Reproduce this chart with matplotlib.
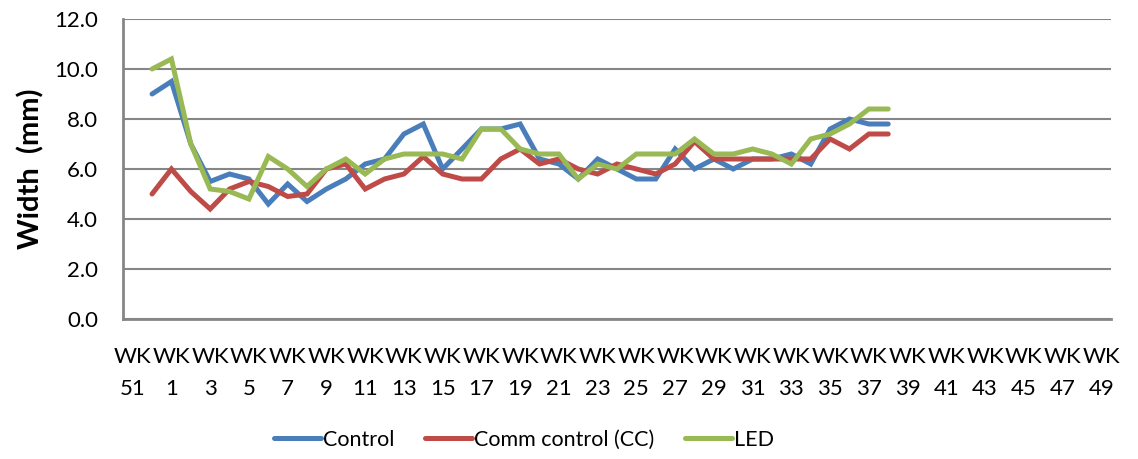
import matplotlib.pyplot as plt
import numpy as np

plt.rcParams['font.family'] = ['Lato', 'DejaVu Sans']

# week categories: WK51, WK52, then WK1..WK49
weeks = ["WK51", "WK52"] + ["WK%d" % w for w in range(1, 50)]
week_nums = ["51", "52"] + [str(w) for w in range(1, 50)]

nan = np.nan
# measured widths (mm), WK51 .. WK38
control = [nan, 9.0, 9.5, 7.0, 5.5, 5.8, 5.6, 4.6, 5.4, 4.7, 5.2, 5.6, 6.2, 6.4,
           7.4, 7.8, 6.0, 6.8, 7.6, 7.6, 7.8, 6.4, 6.2, 5.6, 6.4, 6.0, 5.6, 5.6,
           6.8, 6.0, 6.4, 6.0, 6.4, 6.4, 6.6, 6.2, 7.6, 8.0, 7.8, 7.8]
comm_control = [nan, 5.0, 6.0, 5.1, 4.4, 5.2, 5.5, 5.3, 4.9, 5.0, 6.0, 6.2, 5.2, 5.6,
                5.8, 6.5, 5.8, 5.6, 5.6, 6.4, 6.8, 6.2, 6.4, 6.0, 5.8, 6.2, 6.0, 5.8,
                6.2, 7.1, 6.4, 6.4, 6.4, 6.4, 6.4, 6.4, 7.2, 6.8, 7.4, 7.4]
led = [nan, 10.0, 10.4, 7.0, 5.2, 5.1, 4.8, 6.5, 6.0, 5.3, 6.0, 6.4, 5.8, 6.4,
       6.6, 6.6, 6.6, 6.4, 7.6, 7.6, 6.8, 6.6, 6.6, 5.6, 6.2, 6.0, 6.6, 6.6,
       6.6, 7.2, 6.6, 6.6, 6.8, 6.6, 6.2, 7.2, 7.4, 7.8, 8.4, 8.4]

series = [("Control", control, "#4A7EBB"),
          ("Comm control (CC)", comm_control, "#BE4B48"),
          ("LED", led, "#98B954")]

fig = plt.figure(figsize=(11.38, 4.59), dpi=100)
ax = fig.add_axes([123/1138, 1 - 319/459, (1111 - 123)/1138, 300/459])

for name, vals, col in series:
    x = np.arange(len(vals))
    ax.plot(x, vals, color=col, lw=3.6, label=name, solid_capstyle="round",
            solid_joinstyle="miter")

ax.set_xlim(-0.5, len(weeks) - 0.5)
ax.set_ylim(0, 12)
yt = np.arange(0, 12.1, 2)
ax.set_yticks(yt)
ax.set_yticklabels(["%.1f" % v for v in yt], fontsize=16)
ax.yaxis.grid(True, color="#868686", lw=1.5)
ax.set_axisbelow(True)

idx = np.arange(0, len(weeks), 2)
ax.set_xticks(idx)
ax.set_xticklabels(["WK\n" + week_nums[i] for i in idx], fontsize=16, linespacing=1.75)
ax.tick_params(axis="both", length=0)
ax.tick_params(axis="x", pad=20)
ax.tick_params(axis="y", pad=18)

for s in ["top", "right"]:
    ax.spines[s].set_visible(False)
for s in ["left", "bottom"]:
    ax.spines[s].set_color("#868686")
    ax.spines[s].set_linewidth(2)

ax.set_ylabel("Width  (mm)", fontsize=21, fontweight="bold", labelpad=7)

fig.legend(loc="center", bbox_to_anchor=(524/1138, 1 - 440/459), ncol=3, frameon=False,
           fontsize=15.5, handlelength=2.2, handletextpad=0.1, columnspacing=1.4)

fig.savefig("out.png", dpi=100)
